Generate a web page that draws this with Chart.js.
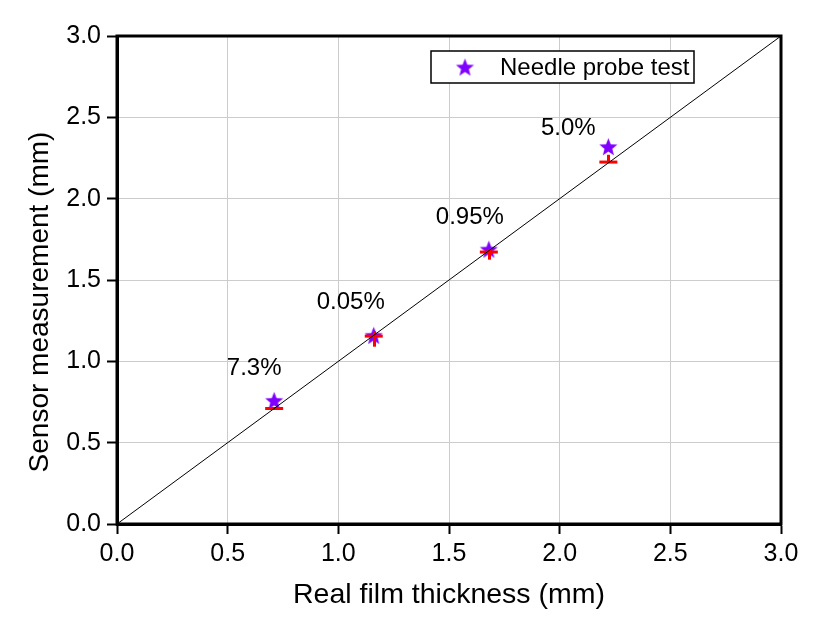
<!DOCTYPE html>
<html>
<head>
<meta charset="utf-8">
<script src="https://cdn.jsdelivr.net/npm/chart.js@4.4.1/dist/chart.umd.min.js"></script>
<style>
  html, body { margin: 0; padding: 0; background: #ffffff; }
  #wrap { width: 816px; height: 629px; position: relative; }
</style>
</head>
<body>
<div id="wrap"><canvas id="c" width="816" height="629"></canvas></div>
<script>
// ---- data ----
const realThickness   = [0.71, 1.16, 1.68, 2.22];      // x (mm)
const sensorValues    = [0.76, 1.16, 1.69, 2.32];      // needle probe test (stars)
const referenceValues = [0.71, 1.155, 1.672, 2.225];   // red markers
const errorLow        = [0.71, 1.09, 1.625, 2.225];    // red vertical bar lower end
const errorHigh       = [0.71, 1.185, 1.69, 2.27];     // red vertical bar upper end
const errorLabels     = ['7.3%', '0.05%', '0.95%', '5.0%'];
const identityLine    = [0, 3];                         // y = x reference
const axisTicks       = [0, 0.5, 1.0, 1.5, 2.0, 2.5, 3.0];

// ---- styles ----
const FONT = "'Liberation Sans', Arial, sans-serif";
const PURPLE = '#7f00ff';
const RED = '#ff0000';
const labelOffsets = [[-20, -32], [-23, -33], [-19, -32], [-40, -18]];
const yTitleShift = 22;

function makeStar(R, color) {
  const size = Math.ceil(R * 2 + 2);
  const cv = document.createElement('canvas');
  cv.width = size; cv.height = size;
  const ctx = cv.getContext('2d');
  const cx = size / 2, cy = size / 2 + R * 0.1;
  const r = R * 0.43;
  ctx.beginPath();
  for (let i = 0; i < 10; i++) {
    const rad = (i % 2 === 0) ? R : r;
    const a = -Math.PI / 2 + i * Math.PI / 5;
    const px = cx + rad * Math.cos(a), py = cy + rad * Math.sin(a);
    if (i === 0) ctx.moveTo(px, py); else ctx.lineTo(px, py);
  }
  ctx.closePath();
  ctx.fillStyle = color;
  ctx.fill();
  return cv;
}
const starImg = makeStar(9.5, PURPLE);

const sensorData = realThickness.map((x, i) => ({ x: x, y: sensorValues[i] }));
const referenceData = realThickness.map((x, i) => ({ x: x, y: referenceValues[i] }));

const overlayPlugin = {
  id: 'overlay',
  afterDatasetsDraw(chart) {
    const { ctx, chartArea, scales } = chart;
    const xs = scales.x, ys = scales.y;
    ctx.save();
    // red vertical bars
    ctx.strokeStyle = RED;
    ctx.lineWidth = 3;
    realThickness.forEach((x, i) => {
      if (errorHigh[i] - errorLow[i] <= 0) return;
      const px = Math.round(xs.getPixelForValue(x)) + 0.5;
      ctx.beginPath();
      ctx.moveTo(px, ys.getPixelForValue(errorLow[i]));
      ctx.lineTo(px, ys.getPixelForValue(errorHigh[i]));
      ctx.stroke();
    });
    // identity line on top
    ctx.strokeStyle = '#000';
    ctx.lineWidth = 1;
    ctx.beginPath();
    ctx.moveTo(xs.getPixelForValue(identityLine[0]), ys.getPixelForValue(identityLine[0]));
    ctx.lineTo(xs.getPixelForValue(identityLine[1]), ys.getPixelForValue(identityLine[1]));
    ctx.stroke();
    // percentage labels
    ctx.fillStyle = '#000';
    ctx.font = '24px ' + FONT;
    ctx.textAlign = 'center';
    ctx.textBaseline = 'middle';
    realThickness.forEach((x, i) => {
      const px = xs.getPixelForValue(x) + labelOffsets[i][0];
      const py = ys.getPixelForValue(sensorValues[i]) + labelOffsets[i][1];
      ctx.fillText(errorLabels[i], px, py);
    });
    // frame
    ctx.strokeStyle = '#000';
    ctx.lineWidth = 3;
    ctx.strokeRect(chartArea.left, chartArea.top, chartArea.right - chartArea.left, chartArea.bottom - chartArea.top);
    // legend box
    const bx = chartArea.left + 314, by = chartArea.top + 15, bw = 263, bh = 32;
    ctx.fillStyle = '#fff';
    ctx.fillRect(bx, by, bw, bh);
    ctx.lineWidth = 1.5;
    ctx.strokeRect(bx, by, bw, bh);
    ctx.drawImage(starImg, bx + 34 - starImg.width / 2, by + bh / 2 - starImg.height / 2);
    ctx.fillStyle = '#000';
    ctx.textAlign = 'left';
    ctx.fillText(chart.data.datasets[0].label, bx + 69, by + bh / 2 + 1);
    // y axis title
    ctx.save();
    ctx.translate(40, (chartArea.top + chartArea.bottom) / 2 + yTitleShift);
    ctx.rotate(-Math.PI / 2);
    ctx.font = '28px ' + FONT;
    ctx.textAlign = 'center';
    ctx.textBaseline = 'middle';
    ctx.fillText(chart.options.scales.y.title.text, 0, 0);
    ctx.restore();
    ctx.restore();
  }
};

const tickStyle = { font: { family: FONT, size: 25 }, color: '#000' };

new Chart(document.getElementById('c'), {
  type: 'scatter',
  data: {
    datasets: [
      {
        label: 'Needle probe test',
        data: sensorData,
        pointStyle: starImg,
        pointRadius: 10,
        pointHoverRadius: 10,
        order: 2
      },
      {
        label: 'Reference',
        data: referenceData,
        pointStyle: 'line',
        pointRadius: 9,
        pointHoverRadius: 9,
        borderColor: RED,
        backgroundColor: RED,
        borderWidth: 3,
        pointBorderWidth: 3,
        order: 1
      }
    ]
  },
  options: {
    responsive: false,
    animation: false,
    events: [],
    layout: { padding: { top: 36, right: 35, left: 0, bottom: 0 } },
    plugins: { legend: { display: false }, tooltip: { enabled: false } },
    scales: {
      x: {
        type: 'linear', min: 0, max: 3,
        afterBuildTicks: s => { s.ticks = axisTicks.map(v => ({ value: v })); },
        afterFit: s => { s.height = 105; },
        ticks: Object.assign({ padding: 5, callback: v => v.toFixed(1), maxRotation: 0, autoSkip: false }, tickStyle),
        grid: { color: '#cccccc', lineWidth: 1, tickColor: '#000', tickLength: 10, tickWidth: 2 },
        border: { color: '#000', width: 3 },
        title: { display: true, text: 'Real film thickness (mm)', color: '#000',
                 font: { family: FONT, size: 28.5 }, padding: { top: 0, bottom: 17 } }
      },
      y: {
        type: 'linear', min: 0, max: 3,
        afterBuildTicks: s => { s.ticks = axisTicks.map(v => ({ value: v })); },
        afterFit: s => { s.width = 117; },
        ticks: Object.assign({ padding: 6, callback: v => v.toFixed(1), autoSkip: false }, tickStyle),
        grid: { color: '#cccccc', lineWidth: 1, tickColor: '#000', tickLength: 10, tickWidth: 2 },
        border: { color: '#000', width: 3 },
        title: { display: false, text: 'Sensor measurement (mm)' }
      }
    }
  },
  plugins: [overlayPlugin]
});
</script>
</body>
</html>
